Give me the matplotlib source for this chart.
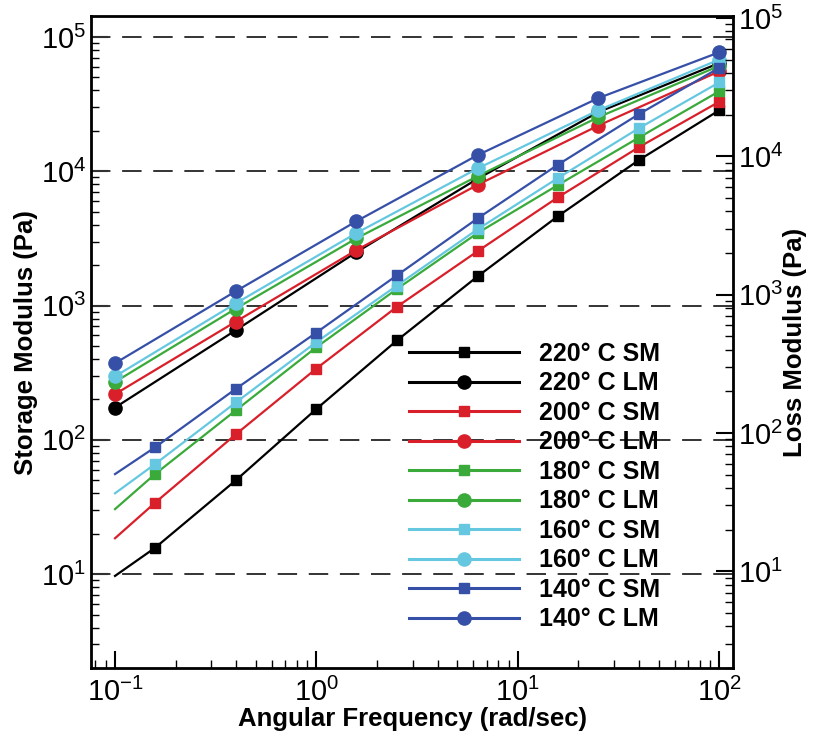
import matplotlib
matplotlib.use('Agg')
import matplotlib.pyplot as plt
from matplotlib.ticker import LogLocator, NullFormatter

plt.rcParams['font.family'] = ['Liberation Sans', 'DejaVu Sans']
plt.rcParams['mathtext.fontset'] = 'custom'
plt.rcParams['mathtext.rm'] = 'Liberation Sans'

# frequencies (rad/sec)
freq_sm = [0.1, 0.158, 0.398, 1.0, 2.51, 6.31, 15.8, 39.8, 100]
freq_lm = [0.1, 0.398, 1.58, 6.31, 25.1, 100]

temps = ['220', '200', '180', '160', '140']
colors = ['#000000', '#d9202a', '#3aaa3a', '#66c8e0', '#3650a8']

# storage modulus (Pa)
sm = {
    '220': [9.7, 15.7, 50, 170, 550, 1650, 4630, 12100, 28500],
    '200': [18.5, 34, 110, 340, 980, 2540, 6400, 15100, 33000],
    '180': [30.5, 55.6, 166, 490, 1330, 3470, 7900, 17800, 39500],
    '160': [40, 66, 190, 535, 1410, 3700, 8900, 20900, 46000],
    '140': [55.6, 88, 240, 630, 1680, 4460, 11200, 26600, 59000],
}
# loss modulus (Pa)
lm = {
    '220': [174, 656, 2500, 8800, 27600, 64000],
    '200': [219, 760, 2590, 7930, 21900, 55600],
    '180': [270, 950, 3170, 9200, 25300, 61000],
    '160': [297, 1040, 3470, 10500, 28500, 68000],
    '140': [372, 1280, 4250, 13200, 35100, 77000],
}

fig = plt.figure(figsize=(8.14, 7.36), dpi=100)
ax1 = fig.add_axes([0.1118, 0.0924, 0.7887, 0.8856])

for t, c in zip(temps, colors):
    ax1.plot(freq_sm, sm[t], '-s', color=c, lw=1.6, markersize=7,
             markevery=list(range(1, len(freq_sm))), label=f'{t}° C SM', zorder=3)
    ax1.plot(freq_lm, lm[t], '-o', color=c, lw=1.6, markersize=9.5,
             label=f'{t}° C LM', zorder=3)

ax1.set_xscale('log')
ax1.set_yscale('log')
ax1.set_xlim(0.076, 117)
ax1.set_ylim(2.0, 1.43e5)

# dashed lines at the decades
for v in [1e1, 1e2, 1e3, 1e4, 1e5]:
    ax1.axhline(v, color='#333333', lw=1.4, ls=(0, (10, 6)), zorder=2)

ax1.tick_params(axis='both', which='both', direction='in', labelsize=21, top=False, right=False)
ax1.tick_params(axis='both', which='major', length=12, width=1.5)
ax1.tick_params(axis='both', which='minor', length=6, width=1)
ax1.tick_params(axis='x', which='major', pad=7)
ax1.xaxis.set_minor_locator(LogLocator(base=10, subs=range(2, 10)))
ax1.yaxis.set_minor_locator(LogLocator(base=10, subs=range(2, 10)))
ax1.yaxis.set_minor_formatter(NullFormatter())
ax1.xaxis.set_minor_formatter(NullFormatter())
ax1.set_xlabel('Angular Frequency (rad/sec)', fontsize=18.5, fontweight='bold', labelpad=0)
ax1.set_ylabel('Storage Modulus (Pa)', fontsize=18.5, fontweight='bold', labelpad=2)
for s in ax1.spines.values():
    s.set_linewidth(2)

ax2 = ax1.twinx()
ax2.set_yscale('log')
ax2.set_ylim(2.0, 1.03e5)
ax2.yaxis.set_minor_locator(LogLocator(base=10, subs=range(2, 10)))
ax2.yaxis.set_minor_formatter(NullFormatter())
ax2.tick_params(axis='y', which='both', direction='in', labelsize=21)
ax2.tick_params(axis='y', which='major', length=12, width=1.5)
ax2.tick_params(axis='y', which='minor', length=6, width=1)
ax2.set_ylabel('Loss Modulus (Pa)', fontsize=18.5, fontweight='bold', labelpad=0)

leg = ax1.legend(loc='upper left', bbox_to_anchor=(0.461, 0.535), frameon=False,
                 handlelength=4.4, handletextpad=0.8, labelspacing=0.22,
                 prop={'weight': 'bold', 'size': 18})
for h in leg.get_lines():
    h.set_linewidth(2.2)

fig.savefig('out.png', dpi=100)
